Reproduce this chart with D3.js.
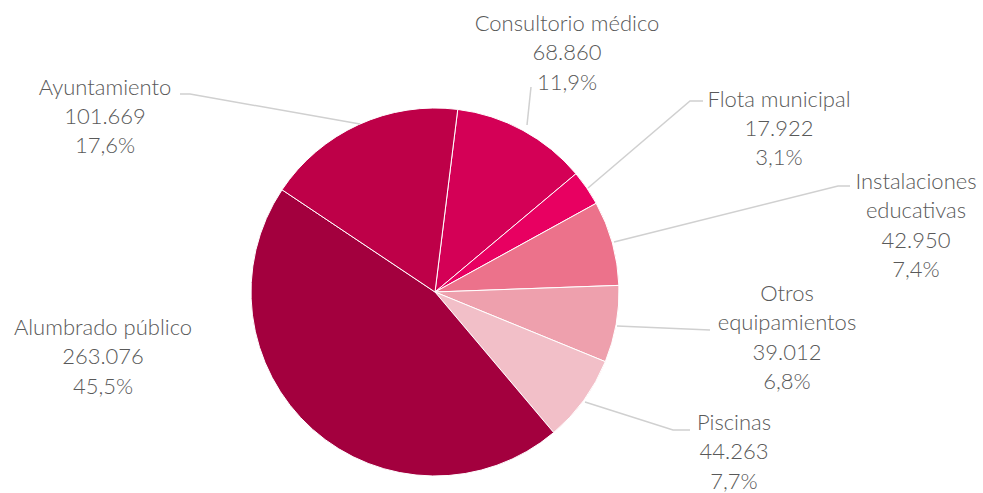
<!DOCTYPE html>
<html><head><meta charset="utf-8">
<script src="https://cdn.jsdelivr.net/npm/d3@7"></script>
<style>body{margin:0;background:#fff}svg{display:block}</style>
</head><body>
<svg id="c" width="983" height="493"></svg>
<script>
const categories = ["Consultorio médico","Flota municipal","Instalaciones educativas","Otros equipamientos","Piscinas","Alumbrado público","Ayuntamiento"];
const values = [68860, 17922, 42950, 39012, 44263, 263076, 101669];
const percentLabels = ["11,9%","3,1%","7,4%","6,8%","7,7%","45,5%","17,6%"];
const valueLabels = ["68.860","17.922","42.950","39.012","44.263","263.076","101.669"];
const colors = ["#D40056","#E80061","#EC728B","#EEA0AD","#F2BFC8","#A3003E","#BE0048"];
const labelLines = [["Consultorio médico"],["Flota municipal"],["Instalaciones","educativas"],["Otros","equipamientos"],["Piscinas"],["Alumbrado público"],["Ayuntamiento"]];
const labelPos = [[567,31],[779,106.5],[916,189],[787,301],[734,430],[103,335],[105,94.5]];
const leaders = [
  [[531,87],[527,125]],
  [[703,101],[690,101],[588,188]],
  [[850,186],[838,186],[614,242]],
  [[710,330],[617,326]],
  [[690,430],[673,430],[585,402]],
  null,
  [[180,94],[190,94],[360,124]]
];

const svg = d3.select("#c");
const cx = 435, cy = 292, r = 184;
const startDeg = 7.1;
const pie = d3.pie().sort(null).value(d=>d)
  .startAngle(startDeg*Math.PI/180).endAngle((startDeg+360)*Math.PI/180);
const arcs = pie(values);
const arc = d3.arc().innerRadius(0).outerRadius(r);
const g = svg.append("g").attr("transform",`translate(${cx},${cy})`);
g.selectAll("path").data(arcs).join("path")
  .attr("d",arc).attr("fill",(d,i)=>colors[i])
  .attr("stroke","#fff").attr("stroke-width",1);

const line = d3.line();
leaders.forEach(l=>{ if(!l) return;
  svg.append("path").attr("d",line(l)).attr("fill","none")
    .attr("stroke","#D0D0D0").attr("stroke-width",1.5);
});

const lh = 29.3;
categories.forEach((c,i)=>{
  const lines = labelLines[i].concat([valueLabels[i], percentLabels[i]]);
  const t = svg.append("text").attr("text-anchor","middle")
    .attr("font-family","Lato, 'Open Sans', sans-serif").attr("font-weight",300)
    .attr("font-size",22).attr("fill","#595959");
  lines.forEach((s,k)=>{
    t.append("tspan").attr("x",labelPos[i][0]).attr("y",labelPos[i][1]+k*lh).text(s);
  });
});
</script>
</body></html>
